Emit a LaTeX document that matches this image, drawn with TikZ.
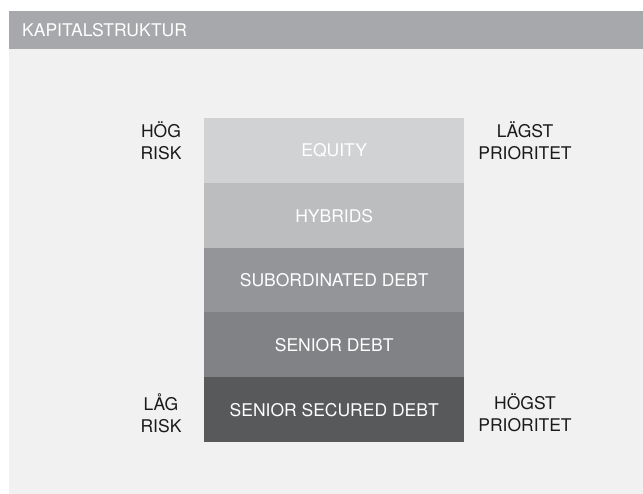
\documentclass[tikz,border=0pt]{standalone}
\usepackage{fontspec}
\setmainfont{TeX Gyre Heros}
\definecolor{headergray}{HTML}{A7A8AB}
\definecolor{panelgray}{HTML}{F1F1F1}
\definecolor{tierA}{HTML}{D1D2D4}
\definecolor{tierB}{HTML}{BCBDBF}
\definecolor{tierC}{HTML}{939598}
\definecolor{tierD}{HTML}{808285}
\definecolor{tierE}{HTML}{58595B}
\definecolor{labelink}{HTML}{1A1A1A}
\begin{document}
\begin{tikzpicture}[x=1pt,y=-1pt,
  every node/.style={font=\fontsize{17.5}{22}\selectfont},
  tier/.style={minimum width=260pt,minimum height=65pt,inner sep=0pt,
    text=white,anchor=north west},
  side/.style={align=center,text=labelink,inner sep=0pt}]
\useasboundingbox (0,0) rectangle (643,494);
% background panel and title bar
\fill[white] (0,0) rectangle (643,494);
\fill[panelgray] (9,49) rectangle (643,494);
\fill[headergray] (9,11) rectangle (643,49);
\node[anchor=west,text=white,inner sep=0pt] (title) at (22,30.5) {KAPITALSTRUKTUR};
% capital structure stack
\node[tier,fill=tierA] (equity) at (204,118) {EQUITY};
\node[tier,fill=tierB] (hybrids) at (204,183) {HYBRIDS};
\node[tier,fill=tierC] (subdebt) at (204,247.5) {SUBORDINATED DEBT};
\node[tier,fill=tierD] (senior) at (204,312) {SENIOR DEBT};
\node[tier,fill=tierE] (secured) at (204,377) {SENIOR SECURED DEBT};
% risk and priority labels
\node[side] (highrisk) at (161,141) {HÖG\\RISK};
\node[side] (lowprio) at (525,141) {LÄGST\\PRIORITET};
\node[side] (lowrisk) at (161,413) {LÅG\\RISK};
\node[side] (highprio) at (525,413) {HÖGST\\PRIORITET};
\end{tikzpicture}
\end{document}
